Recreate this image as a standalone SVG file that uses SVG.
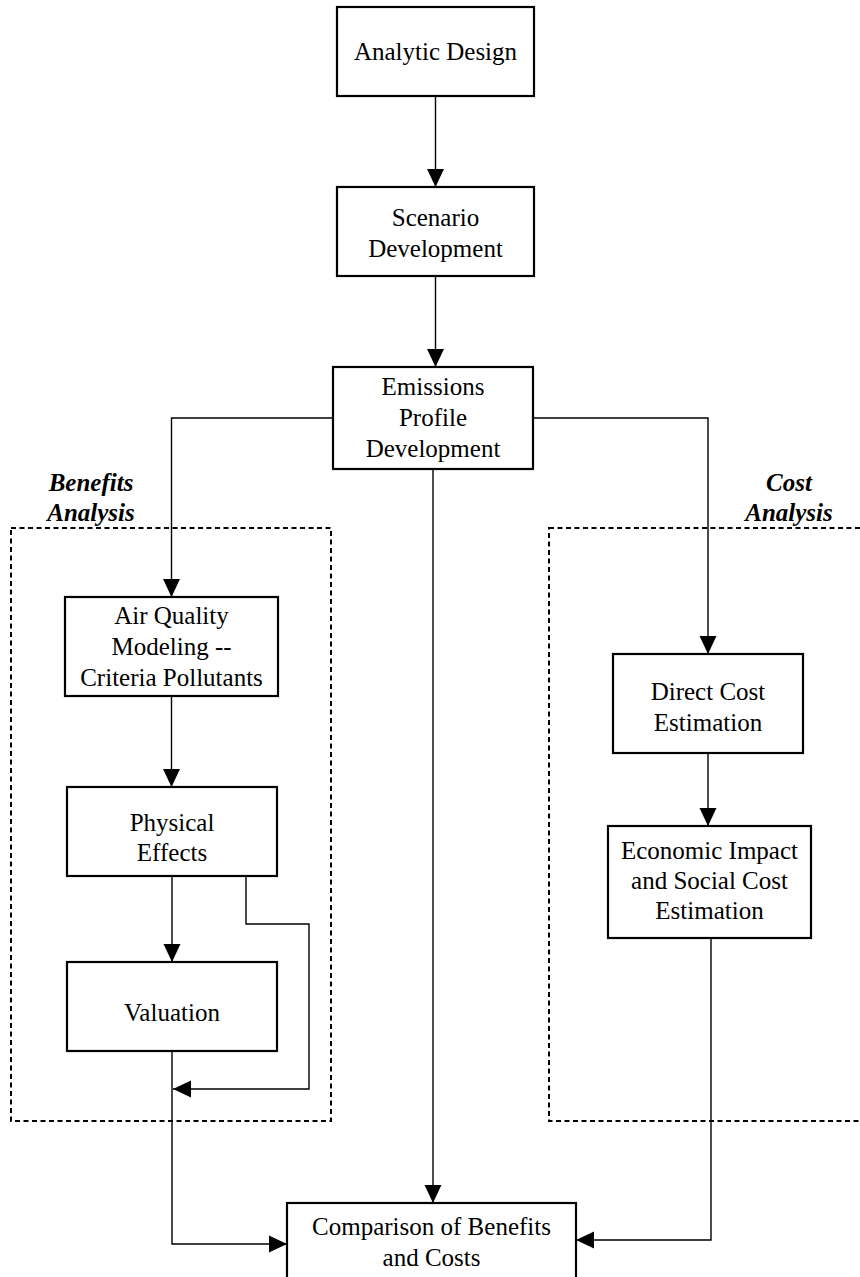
<svg xmlns="http://www.w3.org/2000/svg" width="860" height="1277" viewBox="0 0 860 1277">
<defs>
<marker id="ah" markerUnits="userSpaceOnUse" markerWidth="18" markerHeight="18" viewBox="0 0 17 16" refX="17" refY="8" orient="auto">
<path d="M0,0 L17,8 L0,16 z" fill="#000"/>
</marker>
<style>
.box{fill:#fff;stroke:#000;stroke-width:2.2}
.t{font-family:"Liberation Serif","Times New Roman",serif;font-size:25px;fill:#000;text-anchor:middle}
.lbl{font-family:"Liberation Serif","Times New Roman",serif;font-size:25px;font-weight:bold;font-style:italic;fill:#000;text-anchor:middle}
.c{fill:none;stroke:#000;stroke-width:1.4}
.ca{fill:none;stroke:#000;stroke-width:1.4;marker-end:url(#ah)}
.dash{fill:none;stroke:#000;stroke-width:2;stroke-dasharray:5 3.5}
</style>
</defs>
<rect width="860" height="1277" fill="#fff"/>
<g id="groups">
<rect class="dash" x="11" y="528" width="320" height="593"/>
<rect class="dash" x="549" y="528" width="330" height="593"/>
<text class="lbl" x="91" y="491">Benefits</text>
<text class="lbl" x="91" y="521">Analysis</text>
<text class="lbl" x="789" y="491">Cost</text>
<text class="lbl" x="789" y="521">Analysis</text>
</g>
<g id="connectors">
<path class="ca" d="M435.5 96 V187"/>
<path class="ca" d="M435.5 276 V367"/>
<path class="ca" d="M333 418 H171.5 V597"/>
<path class="ca" d="M533 418 H708 V654"/>
<path class="ca" d="M433 469 V1203"/>
<path class="ca" d="M171.5 696 V787"/>
<path class="ca" d="M172 876 V962"/>
<path class="ca" d="M246 876 V924 H309 V1089 H173"/>
<path class="ca" d="M172 1051 V1244 H287"/>
<path class="ca" d="M708 753 V826"/>
<path class="ca" d="M711 938 V1240 H576"/>
</g>
<g id="analytic">
<rect class="box" x="337" y="7" width="197" height="89"/>
<text class="t" x="435.5" y="60">Analytic Design</text>
</g>
<g id="scenario">
<rect class="box" x="337" y="187" width="197" height="89"/>
<text class="t" x="435.5" y="226">Scenario</text>
<text class="t" x="435.5" y="257">Development</text>
</g>
<g id="emissions">
<rect class="box" x="333" y="367" width="200" height="102"/>
<text class="t" x="433" y="395">Emissions</text>
<text class="t" x="433" y="426">Profile</text>
<text class="t" x="433" y="457">Development</text>
</g>
<g id="airquality">
<rect class="box" x="65" y="597" width="213" height="99"/>
<text class="t" x="171.5" y="624">Air Quality</text>
<text class="t" x="171.5" y="655">Modeling --</text>
<text class="t" x="171.5" y="686">Criteria Pollutants</text>
</g>
<g id="physical">
<rect class="box" x="67" y="787" width="210" height="89"/>
<text class="t" x="172" y="831">Physical</text>
<text class="t" x="172" y="861">Effects</text>
</g>
<g id="valuation">
<rect class="box" x="67" y="962" width="210" height="89"/>
<text class="t" x="172" y="1021">Valuation</text>
</g>
<g id="directcost">
<rect class="box" x="613" y="654" width="190" height="99"/>
<text class="t" x="708" y="700">Direct Cost</text>
<text class="t" x="708" y="731">Estimation</text>
</g>
<g id="economic">
<rect class="box" x="608" y="826" width="203" height="112"/>
<text class="t" x="709.5" y="859">Economic Impact</text>
<text class="t" x="709.5" y="889">and Social Cost</text>
<text class="t" x="709.5" y="919">Estimation</text>
</g>
<g id="comparison">
<rect class="box" x="287" y="1203" width="289" height="90"/>
<text class="t" x="431.5" y="1235">Comparison of Benefits</text>
<text class="t" x="431.5" y="1266">and Costs</text>
</g>
</svg>
